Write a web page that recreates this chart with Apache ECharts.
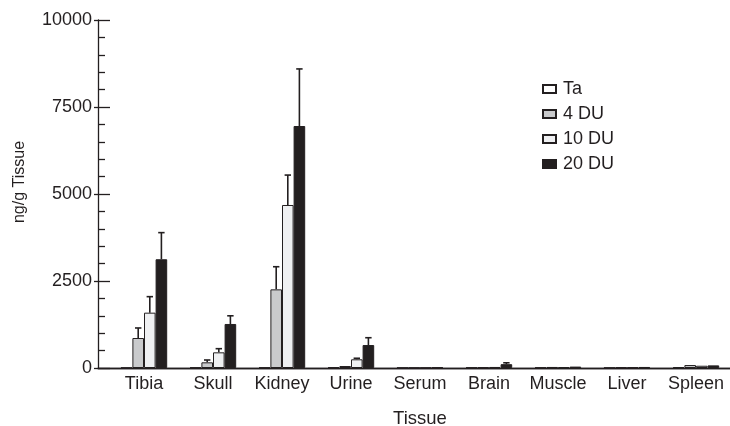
<!DOCTYPE html>
<html>
<head>
<meta charset="utf-8">
<script src="https://cdn.jsdelivr.net/npm/echarts@6/dist/echarts.min.js"></script>
<style>
  html, body { margin: 0; padding: 0; background: #fff; }
  #main { width: 730px; height: 426px; }
</style>
</head>
<body>
<div id="main"></div>
<script>
// 数据
var categories = ['Tibia', 'Skull', 'Kidney', 'Urine', 'Serum', 'Brain', 'Muscle', 'Liver', 'Spleen'];
var seriesNames = ['Ta', '4 DU', '10 DU', '20 DU'];
var taValues   = [10, 15, 15, 20, 10, 15, 15, 10, 25];
var du4Values  = [862, 163, 2260, 57, 10, 20, 30, 20, 85];
var du10Values = [1590, 450, 4684, 250, 10, 30, 25, 20, 65];
var du20Values = [3125, 1265, 6954, 660, 20, 110, 40, 30, 75];
// 误差（仅上方）
var taErr   = [0, 0, 0, 0, 0, 0, 0, 0, 0];
var du4Err  = [288, 67, 650, 0, 0, 0, 0, 0, 0];
var du10Err = [460, 105, 860, 30, 0, 0, 0, 0, 0];
var du20Err = [765, 235, 1640, 210, 0, 40, 0, 0, 0];
var yTicks = [0, 2500, 5000, 7500, 10000];

var colors = ['#ffffff', '#c9cacc', '#eff0f2', '#231f20'];
var allValues = [taValues, du4Values, du10Values, du20Values];
var allErr = [taErr, du4Err, du10Err, du20Err];
var ink = '#231f20';
var font = 'Liberation Sans';
var barW = 11.6;

var myChart = echarts.init(document.getElementById('main'));

var series = [];
allValues.forEach(function (vals, k) {
    series.push({
        name: seriesNames[k],
        type: 'bar',
        xAxisIndex: 0,
        yAxisIndex: 0,
        barWidth: barW,
        barGap: '0%',
        itemStyle: { color: colors[k], borderColor: ink, borderWidth: 1 },
        data: vals
    });
});

// 误差线
allErr.forEach(function (errs, k) {
    var d = [];
    errs.forEach(function (e, i) {
        if (e > 0) d.push([i, allValues[k][i], e]);
    });
    var offset = (k - 1.5) * barW;
    series.push({
        type: 'custom',
        xAxisIndex: 0,
        yAxisIndex: 0,
        silent: true,
        z: 1,
        renderItem: function (params, api) {
            var c = api.value(0), v = api.value(1), e = api.value(2);
            var top = api.coord([c, v + e]);
            var base = api.coord([c, v]);
            var x = top[0] + offset;
            var st = { stroke: ink, lineWidth: 1.6 };
            return {
                type: 'group',
                children: [
                    { type: 'line', shape: { x1: x, y1: base[1], x2: x, y2: top[1] }, style: st },
                    { type: 'line', shape: { x1: x - 3.2, y1: top[1], x2: x + 3.2, y2: top[1] }, style: st }
                ]
            };
        },
        data: d
    });
});

var option = {
    animation: false,
    backgroundColor: '#fff',
    legend: {
        data: seriesNames,
        orient: 'vertical',
        left: 537,
        top: 75,
        icon: 'rect',
        itemWidth: 13,
        itemHeight: 8,
        itemGap: 7,
        textStyle: { fontFamily: font, fontSize: 18, color: ink, padding: [0, 0, 0, 2] }
    },
    grid: [
        { left: 109.5, width: 621, top: 20, bottom: 58, outerBoundsMode: 'none' },
        { left: 98, right: 0, top: 20, bottom: 58, outerBoundsMode: 'none' }
    ],
    xAxis: [
        {
            type: 'category',
            gridIndex: 0,
            data: categories,
            name: 'Tissue',
            nameLocation: 'middle',
            nameGap: 41,
            nameTextStyle: { fontFamily: font, fontSize: 18.5, color: ink },
            axisLine: { show: false },
            axisTick: { show: false },
            axisLabel: { fontFamily: font, fontSize: 18, color: ink, margin: 7, interval: 0 }
        },
        {
            type: 'value', gridIndex: 1, min: 0, max: 1, position: 'bottom',
            axisLine: { show: true, lineStyle: { color: ink, width: 1.3 } },
            axisTick: { show: false }, axisLabel: { show: false }, splitLine: { show: false }
        },
        {
            type: 'value', gridIndex: 1, min: 0, max: 1, position: 'top',
            axisLine: { show: true, lineStyle: { color: ink, width: 1.3 } },
            axisTick: { show: false }, axisLabel: { show: false }, splitLine: { show: false }
        }
    ],
    yAxis: [
        {
            type: 'value', gridIndex: 0, min: 0, max: 10000, interval: 2500,
            show: false
        },
        {
            type: 'value', gridIndex: 1, min: yTicks[0], max: yTicks[yTicks.length - 1], interval: 2500,
            position: 'left',
            name: 'ng/g Tissue',
            nameLocation: 'middle',
            nameGap: 70,
            nameTextStyle: { fontFamily: font, fontSize: 16, color: ink, padding: [0, 0, 0, 24] },
            axisLine: { show: true, lineStyle: { color: ink, width: 1.3 } },
            axisTick: { show: true, inside: true, length: 12, lineStyle: { color: ink, width: 1.3 } },
            minorTick: { show: true, splitNumber: 5, length: 7, lineStyle: { color: ink, width: 1.3 } },
            axisLabel: {
                fontFamily: font, fontSize: 18, color: ink, margin: 6,
                formatter: function (v) { return String(v); }
            },
            splitLine: { show: false }
        },
        {
            type: 'value', gridIndex: 1, min: 0, max: 10000, interval: 2500,
            position: 'right',
            axisLine: { show: false },
            axisTick: { show: true, inside: true, length: 4, lineStyle: { color: ink, width: 1.3 } },
            axisLabel: { show: false },
            splitLine: { show: false }
        }
    ],
    series: series
};

// 使用刚指定的配置项和数据显示图表。
myChart.setOption(option);
</script>
</body>
</html>
